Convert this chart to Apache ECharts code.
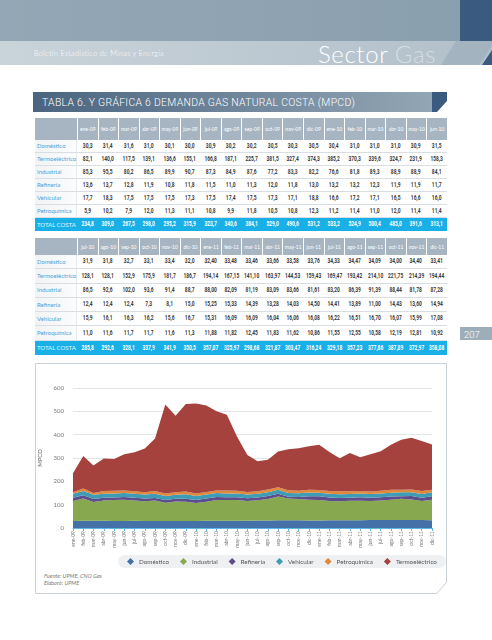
<!DOCTYPE html>
<html><head><meta charset="utf-8">
<script src="https://cdn.jsdelivr.net/npm/echarts/dist/echarts.min.js"></script>
<style>
html,body{margin:0;padding:0;background:#fff;}
body{width:492px;height:640px;position:relative;overflow:hidden;font-family:Lato,"Open Sans",sans-serif;}
.abs{position:absolute;}
table.t{position:absolute;left:35px;width:412px;border-collapse:separate;border-spacing:0;table-layout:fixed;}
table.t th{background:#a7b5c2;color:#fff;font-weight:400;font-size:5px;line-height:6px;padding:0;border-left:1.5px solid #fff;text-align:center;white-space:nowrap;overflow:hidden;}
table.t th:first-child{border-left:none;}
table.t td{padding:0;font-family:Roboto,"DejaVu Sans",sans-serif;font-weight:700;font-size:6.8px;color:#3a3a3a;text-align:center;border-bottom:1px solid #d9dee3;line-height:1;white-space:nowrap;overflow:visible;}
table.t td span{display:inline-block;transform:scaleX(0.72);transform-origin:center;}
table.t td.lab{font-family:Lato,sans-serif;font-weight:400;color:#4aa3da;text-align:left;padding-left:2px;font-size:6px;background:linear-gradient(to right,#f1f3f5,#fbfcfc);border-right:1px solid #e6e9ec;}
table.t tr.tot td{background:#18b0e6;color:#fff;border-bottom:none;}
table.t tr.tot td.lab{color:#e3f5fc;background:#18b0e6;border-right:none;}
#chart{position:absolute;left:0;top:0;width:492px;height:640px;}
</style></head>
<body>
<svg class="abs" style="left:0;top:0" width="492" height="640">
  <defs>
    <linearGradient id="band" x1="0" x2="1" y1="0" y2="0"><stop offset="0" stop-color="#c9d3da"/><stop offset="1" stop-color="#b2c0ca"/></linearGradient>
    <linearGradient id="top" x1="0" x2="1" y1="0" y2="0"><stop offset="0" stop-color="#93a7b5"/><stop offset="1" stop-color="#8a9fae"/></linearGradient>
    <linearGradient id="tb" x1="0" x2="1" y1="0" y2="0"><stop offset="0" stop-color="#4b6580"/><stop offset="1" stop-color="#93a6b5"/></linearGradient>
  </defs>
  <rect x="0" y="0" width="492" height="41" fill="url(#top)"/>
  <rect x="0" y="41" width="492" height="24" fill="url(#band)"/>
  <rect x="460" y="0" width="32" height="41" fill="#3b5a7f"/>
  <polygon points="441,65 456,41 492,41 492,46 479,65" fill="#a3b3bf"/>
  <polygon points="482,65 492,50 492,65" fill="#3b5a7f"/>
  <text x="34" y="56" font-size="7.4" letter-spacing="0.25" fill="#fff" font-family="Lato,sans-serif" font-weight="300">Boletín Estadístico de Minas y Energía</text>
  <text x="318" y="63" font-size="24" font-weight="300" letter-spacing="0.6" fill="#fff" font-family="Lato,sans-serif">Sector <tspan fill-opacity="0.45">Gas</tspan></text>
  <polygon points="33,92 433,92 433,112 33,112" fill="url(#tb)"/>
  <polygon points="432,92 447,92 447,101 437,112 432,112" fill="#3b5a7f"/>
  <text x="42" y="105.5" font-size="10.4" font-weight="300" letter-spacing="0.3" fill="#fff" font-family="Roboto,sans-serif">TABLA 6. Y GRÁFICA 6 DEMANDA GAS NATURAL COSTA (MPCD)</text>
  <rect x="460" y="327" width="32" height="13" fill="#9dadba"/>
  <text x="464" y="337.5" font-size="9.5" font-weight="300" fill="#fff" font-family="Roboto,sans-serif">207</text>
  <polygon points="35.5,363.5 446.5,363.5 446.5,582.5 436.5,593.5 35.5,593.5" fill="none" stroke="#c9d1d7" stroke-width="1"/>
  <text x="44" y="578" font-size="5.6" font-style="italic" fill="#7a7a7a" font-family="Lato,sans-serif">Fuente: UPME, CNO Gas</text>
  <text x="44" y="585" font-size="5.6" font-style="italic" fill="#7a7a7a" font-family="Lato,sans-serif">Elaboró: UPME</text>
</svg>
<table class="t" id="t1" style="top:118px"></table>
<table class="t" id="t2" style="top:238px"></table>
<div id="chart"></div>
<script>
const months = ['ene-09','feb-09','mar-09','abr-09','may-09','jun-09','jul-09','ago-09','sep-09','oct-09','nov-09','dic-09',
 'ene-10','feb-10','mar-10','abr-10','may-10','jun-10','jul-10','ago-10','sep-10','oct-10','nov-10','dic-10',
 'ene-11','feb-11','mar-11','abr-11','may-11','jun-11','jul-11','ago-11','sep-11','oct-11','nov-11','dic-11'];
const domestico = [30.3,31.4,31.6,31.0,30.1,30.0,30.9,30.2,30.2,30.5,30.3,30.5,30.4,31.0,31.0,31.0,30.9,31.5,
 31.9,31.8,32.7,33.1,33.4,32.0,32.40,33.48,33.46,33.66,33.58,33.76,34.33,34.47,34.09,34.00,34.40,33.41];
const termoelectrico = [82.1,140.0,117.5,139.1,136.6,155.1,166.8,187.1,225.7,381.5,327.4,374.3,385.2,370.3,339.6,324.7,231.9,158.3,
 128.1,128.1,152.9,175.9,181.7,186.7,194.14,167.15,141.10,163.97,144.53,159.43,169.47,193.42,214.10,221.75,214.39,194.44];
const industrial = [85.3,95.5,80.2,86.5,89.9,90.7,87.3,84.9,87.6,77.2,83.3,82.2,76.6,81.8,89.3,88.9,88.9,84.1,
 86.5,92.6,102.0,93.6,91.4,88.7,88.00,82.09,81.19,83.09,83.66,81.61,83.20,86.39,91.39,88.44,81.78,87.28];
const refineria = [13.6,13.7,12.8,11.9,10.8,11.8,11.5,11.0,11.3,12.0,11.8,13.0,13.2,13.2,12.3,11.9,11.9,11.7,
 12.4,12.4,12.4,7.3,8.1,15.0,15.25,15.33,14.39,13.28,14.03,14.50,14.41,13.89,11.00,14.43,13.60,14.94];
const vehicular = [17.7,18.3,17.5,17.5,17.5,17.3,17.5,17.4,17.5,17.3,17.1,18.8,16.6,17.2,17.1,16.5,16.6,16.0,
 15.9,16.1,16.3,16.2,15.6,16.7,15.31,16.09,16.09,16.04,16.06,16.08,16.22,16.51,16.70,16.07,15.99,17.08];
const petroquimica = [5.9,10.2,7.9,12.0,11.3,11.1,10.8,9.9,11.8,10.5,10.8,12.3,11.2,11.4,11.0,12.0,11.4,11.4,
 11.0,11.6,11.7,11.7,11.6,11.3,11.88,11.82,12.45,11.83,11.62,10.86,11.55,12.55,10.58,12.19,12.81,10.92];
const totalCosta = [234.8,309.0,267.5,298.0,295.2,315.9,323.7,340.6,384.1,529.0,490.6,531.2,533.2,524.9,500.4,485.0,391.6,313.1,
 285.8,292.6,328.1,337.9,341.9,350.5,357.07,325.97,298.68,321.87,303.47,316.24,329.18,357.23,377.86,387.89,372.97,358.08];

const tableRows = [['Doméstico',domestico],['Termoeléctrico',termoelectrico],['Industrial',industrial],
  ['Refinería',refineria],['Vehicular',vehicular],['Petroquímica',petroquimica]];
function fmt(v,i){return '<span>'+v.toFixed(i>=24?2:1).replace('.',',')+'</span>';}
function buildTable(id,start,headH,rowH){
  const t=document.getElementById(id);
  let h='<colgroup><col style="width:42px">'+Array(18).fill('<col>').join('')+'</colgroup>';
  h+='<tr style="height:'+headH+'px"><th></th>';
  for(let i=start;i<start+18;i++) h+='<th>'+months[i]+'</th>';
  h+='</tr>';
  tableRows.forEach(r=>{
    h+='<tr style="height:'+rowH+'px"><td class="lab">'+r[0]+'</td>';
    for(let i=start;i<start+18;i++) h+='<td>'+fmt(r[1][i],i)+'</td>';
    h+='</tr>';
  });
  h+='<tr class="tot" style="height:'+rowH+'px"><td class="lab">TOTAL COSTA</td>';
  for(let i=start;i<start+18;i++) h+='<td>'+fmt(totalCosta[i],i)+'</td>';
  h+='</tr>';
  t.innerHTML=h;
}
buildTable('t1',0,22,13);
buildTable('t2',18,17,14.3);

const seriesDefs = [
  ['Doméstico',domestico,'#4571a9'],
  ['Industrial',industrial,'#87a84f'],
  ['Refinería',refineria,'#5d4d8a'],
  ['Vehicular',vehicular,'#3e9cb6'],
  ['Petroquímica',petroquimica,'#e0893b'],
  ['Termoeléctrico',termoelectrico,'#a6423e']
];
const chart = echarts.init(document.getElementById('chart'));
chart.setOption({
  animation:false,
  textStyle:{fontFamily:'Lato, sans-serif'},
  grid:{left:73,right:60,top:388,bottom:112},
  legend:{
    left:118, top:555, icon:'diamond', itemWidth:7, itemHeight:7, itemGap:11,
    padding:[3,9], backgroundColor:'#eef0f2', borderRadius:7,
    textStyle:{fontSize:6.3,color:'#555'},
    data:seriesDefs.map(s=>s[0])
  },
  xAxis:{type:'category',boundaryGap:false,data:months,
    axisLine:{lineStyle:{color:'#5fb6e2'}},
    axisTick:{show:true,interval:0,length:3,lineStyle:{color:'#5fb6e2'}},
    axisLabel:{interval:0,rotate:90,fontSize:5,color:'#777',margin:3}},
  yAxis:{type:'value',min:0,max:600,interval:100,name:'MPCD',nameLocation:'middle',nameGap:29,
    nameTextStyle:{fontSize:6,color:'#666'},
    axisLabel:{fontSize:6,color:'#777',margin:9},
    axisLine:{show:false},axisTick:{show:false},
    splitLine:{lineStyle:{color:'#e3e6e9'}}},
  series:seriesDefs.map(s=>({
    name:s[0],type:'line',stack:'total',data:s[1],symbol:'none',
    lineStyle:{width:0},itemStyle:{color:s[2]},areaStyle:{color:s[2],opacity:1}
  }))
});
</script>
</body></html>
